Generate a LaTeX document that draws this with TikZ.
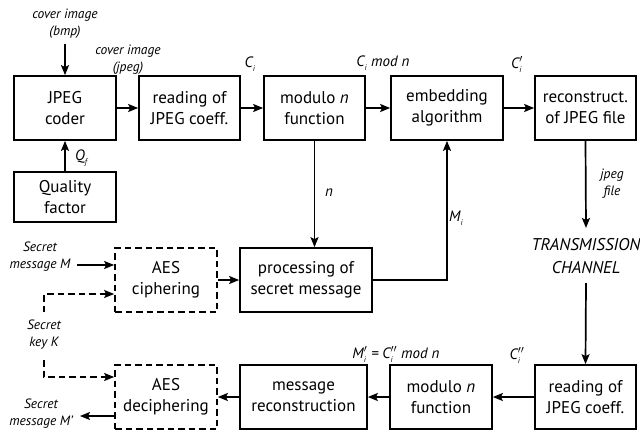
\documentclass[tikz,border=0pt]{standalone}
\usepackage{fontspec}
\setmainfont{PT Sans}
\usetikzlibrary{arrows.meta,calc}
\newcommand\vsym[3]{$\textit{#1}^{#3}_{\textit{\fontsize{8}{8}\selectfont #2}}$}
\begin{document}
\begin{tikzpicture}[x=1pt,y=-1pt,
  box/.style={draw,line width=1.7pt,inner sep=0pt,align=center,
    font=\fontsize{17}{21}\selectfont,minimum height=64pt},
  dbox/.style={box,dash pattern=on 6.5pt off 4pt},
  arr/.style={line width=1.7pt,-{Stealth[length=10pt,width=8pt,inset=2pt]}},
  darr/.style={arr,dash pattern=on 6.5pt off 4pt},
  lab/.style={font=\fontsize{13.5}{17}\selectfont\itshape,align=center,inner sep=0pt},
  mlab/.style={font=\fontsize{15}{17}\selectfont\itshape,inner sep=0pt},
  big/.style={font=\fontsize{17}{23}\selectfont\itshape,align=center,inner sep=0pt}]
\useasboundingbox (0,0) rectangle (640,432);
% top row
\node[box,minimum width=102pt] (coder) at (65,108) {JPEG\\coder};
\node[box,minimum width=101pt] (read) at (189.5,108) {reading of\\JPEG coeff.};
\node[box,minimum width=101pt] (mod) at (314.5,108) {modulo \textit{n}\\function};
\node[box,minimum width=112pt] (emb) at (447,108) {embedding\\algorithm};
\node[box,minimum width=101pt] (rec) at (585.5,108) {reconstruct.\\of JPEG file};
\node[box,minimum width=102pt,minimum height=50pt] (qual) at (65,197) {Quality\\factor};
% middle row
\node[dbox,minimum width=102pt] (aes) at (166,280) {AES\\ciphering};
\node[box,minimum width=132pt] (proc) at (306,280) {processing of\\secret message};
\node[big] (tc) at (586,256) {TRANSMISSION\\CHANNEL};
% bottom row
\node[dbox,minimum width=102pt] (aesd) at (166,397) {AES\\deciphering};
\node[box,minimum width=127pt] (mrec) at (303.5,397) {message\\reconstruction};
\node[box,minimum width=102pt] (mod2) at (441,397) {modulo \textit{n}\\function};
\node[box,minimum width=101pt] (read2) at (585.5,397) {reading of\\JPEG coeff.};
% labels
\node[lab] (bmp) at (65,24) {cover image\\(bmp)};
\coordinate (bmpin) at (65,44);
\node[lab] (jpg) at (128,60) {cover image\\(jpeg)};
\node[mlab,anchor=west] (qf) at (75,158) {\vsym{Q}{f}{}};
\node[mlab] (ci) at (250,64) {\vsym{C}{i}{}};
\node[mlab] (cimod) at (383,63) {\vsym{C}{i}{} mod n};
\node[mlab] (cip) at (517,64) {\vsym{C}{i}{\prime}};
\node[mlab] (nl) at (329,193) {n};
\node[mlab,anchor=west] (mi) at (449,218) {\vsym{M}{i}{}};
\node[lab] (jf) at (612,184) {jpeg\\file};
\coordinate (tcin) at (586,228);
\coordinate (tcout) at (586,283);
\node[mlab] (mpi) at (396,354) {\vsym{M}{i}{\prime}\ = \vsym{C}{i}{\prime\prime} mod n};
\node[mlab] (cipp) at (517,355) {\vsym{C}{i}{\prime\prime}};
\node[lab] (sm) at (40,257) {Secret\\message M};
\coordinate (smout) at (77,265);
\node[lab] (sk) at (44,335) {Secret\\key K};
\coordinate (k1) at (44,312);
\coordinate (k2) at (44,360);
\node[lab] (smp) at (41,414) {Secret\\message M’};
\coordinate (smpin) at (80,416);
% arrows
\draw[arr] (bmpin) -- (coder.north);
\draw[arr] (qual) -- (coder);
\draw[arr] (coder) -- (read);
\draw[arr] (read) -- (mod);
\draw[arr] (mod) -- (emb);
\draw[arr] (emb) -- (rec);
\draw[arr] (mod.south) -- (mod.south |- proc.north);
\draw[arr] (proc.east) -| (emb.south);
\draw[arr] (rec.south) -- (tcin);
\draw[arr] (tcout) -- (read2.north);
\draw[arr] (smout) -- (smout -| aes.west);
\draw[arr] (aes) -- (proc);
\draw[darr] (k1) |- ($(aes.west)+(0,14)$);
\draw[darr] (k2) |- ($(aesd.west)+(0,-20)$);
\draw[arr] (read2) -- (mod2);
\draw[arr] (mod2) -- (mrec);
\draw[arr] (mrec) -- (aesd);
\draw[arr] (smpin -| aesd.west) -- (smpin);
\end{tikzpicture}
\end{document}
